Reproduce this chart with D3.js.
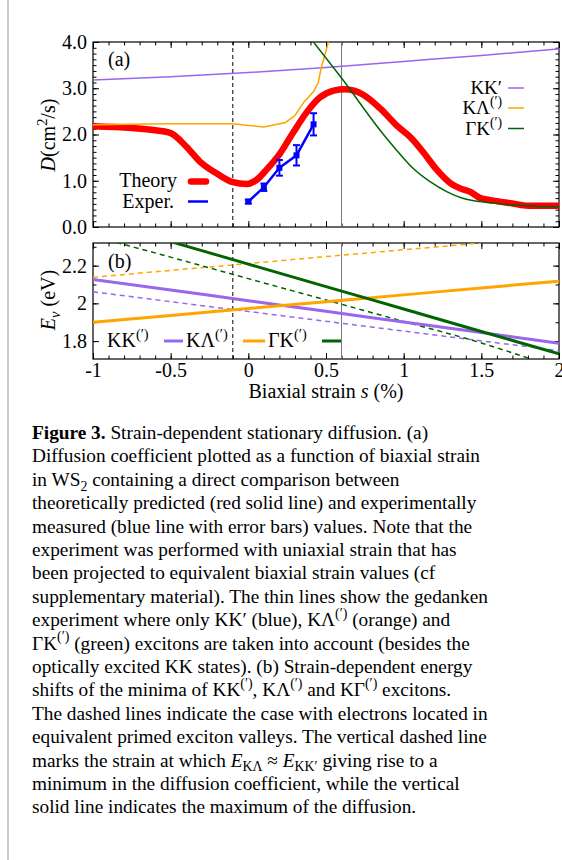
<!DOCTYPE html>
<html><head><meta charset="utf-8">
<script src="https://cdn.jsdelivr.net/npm/d3@7"></script>
<style>html,body{margin:0;padding:0;background:#fff;} svg{display:block;}</style>
</head><body><svg id="c" width="562" height="860"></svg>
<script>
// ---------- data (panel a) ----------
const theoryS = [-1,-0.75,-0.6,-0.5,-0.4,-0.31,-0.2,-0.1,-0.01,0.05,0.12,0.2,0.29,0.38,0.46,0.55,0.62,0.68,0.74,0.85,0.96,1.05,1.13,1.21,1.3,1.36,1.43,1.49,1.6,1.7,1.8,2.0];
const theoryD = [2.18,2.14,2.09,2.03,1.74,1.41,1.15,0.97,0.93,1.01,1.25,1.57,2.05,2.5,2.8,2.95,2.98,2.95,2.86,2.56,2.18,1.92,1.6,1.25,0.95,0.84,0.76,0.63,0.56,0.51,0.46,0.46];
const experS = [0, 0.1, 0.2, 0.31, 0.42];
const experD = [0.55, 0.86, 1.28, 1.55, 2.22];
const experErr = [0.04, 0.08, 0.17, 0.22, 0.24];
const kkPrimeS = [-1,-0.5,0,0.5,1,1.5,2];
const kkPrimeD = [3.18,3.25,3.34,3.45,3.58,3.71,3.85];
const kLambdaS = [-1,-0.5,-0.1,0.1,0.24,0.3,0.36,0.42,0.45,0.47,0.495,0.52];
const kLambdaD = [2.21,2.23,2.23,2.16,2.26,2.41,2.71,2.93,3.12,3.45,3.75,4.05];
const gammaKS = [0.4,0.6,0.87,0.96,1.06,1.17,1.28,1.38,1.49,1.6,1.7,1.85,2.0];
const gammaKD = [4.08,3.22,2.0,1.64,1.27,0.98,0.76,0.62,0.55,0.51,0.48,0.45,0.44];
// ---------- data (panel b) ----------
const kkSolidS = [-1,-0.5,0,0.5,1,1.5,2];
const kkSolidE = [2.127,2.071,2.014,1.958,1.901,1.845,1.788];
const kkDashedS = [-1,-0.5,0,0.5,1,1.5,2];
const kkDashedE = [2.061,2.009,1.957,1.905,1.853,1.801,1.749];
const klSolidS = [-1,-0.5,0,0.5,1,1.5,2];
const klSolidE = [1.900,1.936,1.973,2.009,2.045,2.082,2.118];
const klDashedS = [-1,-0.5,0,0.5,1,1.5];
const klDashedE = [2.138,2.175,2.211,2.248,2.284,2.32];
const gkSolidS = [-0.5,0,0.5,1,1.5,2];
const gkSolidE = [2.327,2.208,2.089,1.970,1.851,1.732];
const gkDashedS = [-0.85,-0.5,0,0.5,1,1.5,1.82];
const gkDashedE = [2.323,2.245,2.131,2.018,1.904,1.790,1.705];
// ---------- markers / ticks ----------
const dashedMarkS = -0.1;
const solidMarkS = 0.6;
const xTickValues = [-1,-0.5,0,0.5,1,1.5,2];
const xTickLabels = ["-1","-0.5","0","0.5","1","1.5","2"];
const yTickValuesA = [0,1,2,3,4];
const yTickLabelsA = ["0.0","1.0","2.0","3.0","4.0"];
const yTickValuesB = [1.8,2.0,2.2];
const yTickLabelsB = ["1.8","2","2.2"];

const COL = {purple:"#9966ee", orange:"#ffa500", green:"#006400", red:"#ff0000", blue:"#0000ff"};
const FONT = "'Liberation Serif', 'Times New Roman', serif";

const svg = d3.select("#c");
svg.append("rect").attr("width",562).attr("height",860).attr("fill","#fff");
svg.append("rect").attr("x",7).attr("y",0).attr("width",2).attr("height",860).attr("fill","#cccccc");

const L = 93, R = 559;
const x = d3.scaleLinear().domain([-1,2]).range([L,R]);
const yA = d3.scaleLinear().domain([0,4]).range([227,42]);
const yB = d3.scaleLinear().domain([1.705,2.32]).range([359,243]);

function rich(textSel, segs, fs){
  let shift = 0;
  segs.forEach(([k,t])=>{
    const ts = textSel.append("tspan").text(t);
    let target = 0, size = fs;
    if (k === "sup") { target = -0.42*fs; size = 0.72*fs; }
    if (k === "sub" || k === "isub") { target = 0.25*fs; size = 0.72*fs; }
    if (k === "b") ts.attr("font-weight","bold");
    if (k === "i" || k === "isub") ts.attr("font-style","italic");
    ts.attr("font-size", size);
    if (target - shift !== 0) ts.attr("dy", target - shift);
    shift = target;
  });
}

function frame(yS, yMajor, yMajorLabels, yMinor, showX, id){
  const g = svg.append("g");
  const [yb, yt] = yS.range();
  const xMinor = d3.range(-1, 2.0001, 0.1).map(v=>+v.toFixed(2));
  g.append("g").attr("transform",`translate(0,${yb})`).call(d3.axisBottom(x).tickValues(xMinor).tickSize(-3.5).tickFormat(""));
  g.append("g").attr("transform",`translate(0,${yt})`).call(d3.axisTop(x).tickValues(xMinor).tickSize(-3.5).tickFormat(""));
  g.append("g").attr("transform",`translate(${L},0)`).call(d3.axisLeft(yS).tickValues(yMinor).tickSize(-3.5).tickFormat(""));
  g.append("g").attr("transform",`translate(${R},0)`).call(d3.axisRight(yS).tickValues(yMinor).tickSize(-3.5).tickFormat(""));
  g.append("g").attr("transform",`translate(0,${yb})`).call(d3.axisBottom(x).tickValues(xTickValues).tickSize(-6).tickPadding(4)
      .tickFormat((d,i)=> showX ? xTickLabels[i] : ""));
  g.append("g").attr("transform",`translate(0,${yt})`).call(d3.axisTop(x).tickValues(xTickValues).tickSize(-6).tickFormat(""));
  g.append("g").attr("transform",`translate(${L},0)`).call(d3.axisLeft(yS).tickValues(yMajor).tickSize(-6).tickPadding(6).tickFormat((d,i)=>yMajorLabels[i]));
  g.append("g").attr("transform",`translate(${R},0)`).call(d3.axisRight(yS).tickValues(yMajor).tickSize(-6).tickFormat(""));
  g.selectAll(".domain").remove();
  g.selectAll("line").attr("stroke","#000").attr("stroke-width",1);
  g.selectAll("text").attr("font-family",FONT).attr("font-size",20).attr("fill","#000");
  g.append("rect").attr("x",L).attr("y",yt).attr("width",R-L).attr("height",yb-yt)
    .attr("fill","none").attr("stroke","#000").attr("stroke-width",1.2);
  svg.append("defs").append("clipPath").attr("id",id).append("rect")
    .attr("x",L).attr("y",yt).attr("width",R-L).attr("height",yb-yt);
  return g;
}

// ---------- panel a ----------
const yMinorA = d3.range(0, 4.0001, 0.125);
frame(yA, yTickValuesA, yTickLabelsA, yMinorA, false, "clipA");
const pa = svg.append("g").attr("clip-path","url(#clipA)");
pa.append("line").attr("x1",x(dashedMarkS)).attr("x2",x(dashedMarkS)).attr("y1",yA(0)).attr("y2",yA(4))
  .attr("stroke","#000").attr("stroke-width",1).attr("stroke-dasharray","4,3");
pa.append("line").attr("x1",x(solidMarkS)).attr("x2",x(solidMarkS)).attr("y1",yA(0)).attr("y2",yA(4))
  .attr("stroke","#777").attr("stroke-width",1);

const lineA = (curve)=> d3.line().x(d=>x(d[0])).y(d=>yA(d[1])).curve(curve);
const zip = (a,b)=> a.map((v,i)=>[v,b[i]]);
pa.append("path").attr("d", lineA(d3.curveMonotoneX)(zip(theoryS,theoryD)))
  .attr("fill","none").attr("stroke",COL.red).attr("stroke-width",6.5).attr("stroke-linecap","round").attr("stroke-linejoin","round");
pa.append("path").attr("d", lineA(d3.curveMonotoneX)(zip(kkPrimeS,kkPrimeD)))
  .attr("fill","none").attr("stroke",COL.purple).attr("stroke-width",1.5);
pa.append("path").attr("d", lineA(d3.curveLinear)(zip(kLambdaS,kLambdaD)))
  .attr("fill","none").attr("stroke",COL.orange).attr("stroke-width",1.5);
pa.append("path").attr("d", lineA(d3.curveMonotoneX)(zip(gammaKS,gammaKD)))
  .attr("fill","none").attr("stroke",COL.green).attr("stroke-width",1.5);
pa.append("path").attr("d", lineA(d3.curveLinear)(zip(experS,experD)))
  .attr("fill","none").attr("stroke",COL.blue).attr("stroke-width",2.5);
const eg = pa.append("g").attr("stroke",COL.blue).attr("stroke-width",2);
experS.forEach((s,i)=>{
  const cx = x(s), y1 = yA(experD[i]-experErr[i]), y2 = yA(experD[i]+experErr[i]);
  eg.append("line").attr("x1",cx).attr("x2",cx).attr("y1",y1).attr("y2",y2);
  eg.append("line").attr("x1",cx-3.5).attr("x2",cx+3.5).attr("y1",y1).attr("y2",y1);
  eg.append("line").attr("x1",cx-3.5).attr("x2",cx+3.5).attr("y1",y2).attr("y2",y2);
  pa.append("rect").attr("x",cx-3).attr("y",yA(experD[i])-3).attr("width",6).attr("height",6).attr("fill",COL.blue);
});

function txt(xp, yp, segs, anchor, fs){
  const t = svg.append("text").attr("x",xp).attr("y",yp).attr("font-family",FONT)
    .attr("font-size",fs||20).attr("fill","#000").attr("text-anchor",anchor||"start");
  rich(t, segs, fs||20);
  return t;
}
function key(x1, x2, yp, color, w, dash){
  const l = svg.append("line").attr("x1",x1).attr("x2",x2).attr("y1",yp).attr("y2",yp)
    .attr("stroke",color).attr("stroke-width",w);
  if (dash) l.attr("stroke-dasharray",dash);
  return l;
}
txt(108, 66, [["n","(a)"]], "start", 20);
txt(177, 187, [["n","Theory"]], "end", 20);
key(191, 206, 181.5, COL.red, 6.5).attr("stroke-linecap","round");
txt(174, 207.5, [["n","Exper."]], "end", 20);
key(188, 208, 201.5, COL.blue, 2.5);
txt(502, 94, [["n","KK′"]], "end", 19);
key(508, 524, 88, COL.purple, 1.5);
txt(502, 114, [["n","KΛ"],["sup","(′)"]], "end", 19);
key(508, 524, 108, COL.orange, 1.5);
txt(502, 134.5, [["n","ΓK"],["sup","(′)"]], "end", 19);
key(508, 524, 128.5, COL.green, 1.5);
const yla = svg.append("text").attr("transform","translate(55,135) rotate(-90)").attr("text-anchor","middle")
  .attr("font-family",FONT).attr("font-size",20);
rich(yla, [["i","D"],["n","(cm"],["sup","2"],["n","/s)"]], 20);

// ---------- panel b ----------
const yMinorB = [1.8,1.9,2.0,2.1,2.2,2.3];
frame(yB, yTickValuesB, yTickLabelsB, yMinorB, true, "clipB");
const pb = svg.append("g").attr("clip-path","url(#clipB)");
pb.append("line").attr("x1",x(dashedMarkS)).attr("x2",x(dashedMarkS)).attr("y1",yB.range()[0]).attr("y2",yB.range()[1])
  .attr("stroke","#000").attr("stroke-width",1).attr("stroke-dasharray","4,3");
pb.append("line").attr("x1",x(solidMarkS)).attr("x2",x(solidMarkS)).attr("y1",yB.range()[0]).attr("y2",yB.range()[1])
  .attr("stroke","#777").attr("stroke-width",1);
const lineB = d3.line().x(d=>x(d[0])).y(d=>yB(d[1])).curve(d3.curveMonotoneX);
const dashed = [[kkDashedS,kkDashedE,COL.purple],[klDashedS,klDashedE,COL.orange],[gkDashedS,gkDashedE,COL.green]];
dashed.forEach(([s,e,c])=>{
  pb.append("path").attr("d",lineB(zip(s,e))).attr("fill","none").attr("stroke",c).attr("stroke-width",1.5).attr("stroke-dasharray","5,4");
});
const solid = [[kkSolidS,kkSolidE,COL.purple],[klSolidS,klSolidE,COL.orange],[gkSolidS,gkSolidE,COL.green]];
solid.forEach(([s,e,c])=>{
  pb.append("path").attr("d",lineB(zip(s,e))).attr("fill","none").attr("stroke",c).attr("stroke-width",3);
});
txt(108, 268, [["n","(b)"]], "start", 20);
txt(107, 347, [["n","KK"],["sup","(′)"]], "start", 20);
key(164, 183, 341, COL.purple, 3);
txt(186, 347, [["n","KΛ"],["sup","(′)"]], "start", 20);
key(243, 265, 341, COL.orange, 3);
txt(268, 347, [["n","ΓK"],["sup","(′)"]], "start", 20);
key(322, 341, 341, COL.green, 3);
const ylb = svg.append("text").attr("transform","translate(55,300) rotate(-90)").attr("text-anchor","middle")
  .attr("font-family",FONT).attr("font-size",20);
rich(ylb, [["i","E"],["isub","v"],["n"," (eV)"]], 20);
const xl = svg.append("text").attr("x",(L+R)/2).attr("y",398).attr("text-anchor","middle")
  .attr("font-family",FONT).attr("font-size",20);
rich(xl, [["n","Biaxial strain "],["i","s"],["n"," (%)"]], 20);

// ---------- caption ----------
const captionLines = [
 [["b","Figure 3."],["n"," Strain-dependent stationary diffusion. (a)"]],
 [["n","Diffusion coefficient plotted as a function of biaxial strain"]],
 [["n","in WS"],["sub","2"],["n"," containing a direct comparison between"]],
 [["n","theoretically predicted (red solid line) and experimentally"]],
 [["n","measured (blue line with error bars) values. Note that the"]],
 [["n","experiment was performed with uniaxial strain that has"]],
 [["n","been projected to equivalent biaxial strain values (cf"]],
 [["n","supplementary material). The thin lines show the gedanken"]],
 [["n","experiment where only KK′ (blue), KΛ"],["sup","(′)"],["n"," (orange) and"]],
 [["n","ΓK"],["sup","(′)"],["n"," (green) excitons are taken into account (besides the"]],
 [["n","optically excited KK states). (b) Strain-dependent energy"]],
 [["n","shifts of the minima of KK"],["sup","(′)"],["n",", KΛ"],["sup","(′)"],["n"," and KΓ"],["sup","(′)"],["n"," excitons."]],
 [["n","The dashed lines indicate the case with electrons located in"]],
 [["n","equivalent primed exciton valleys. The vertical dashed line"]],
 [["n","marks the strain at which "],["i","E"],["sub","KΛ"],["n"," ≈ "],["i","E"],["sub","KK′"],["n"," giving rise to a"]],
 [["n","minimum in the diffusion coefficient, while the vertical"]],
 [["n","solid line indicates the maximum of the diffusion."]]
];
captionLines.forEach((segs,i)=>{
  txt(32, 439 + i*23.4, segs, "start", 19.3);
});
</script></body></html>
